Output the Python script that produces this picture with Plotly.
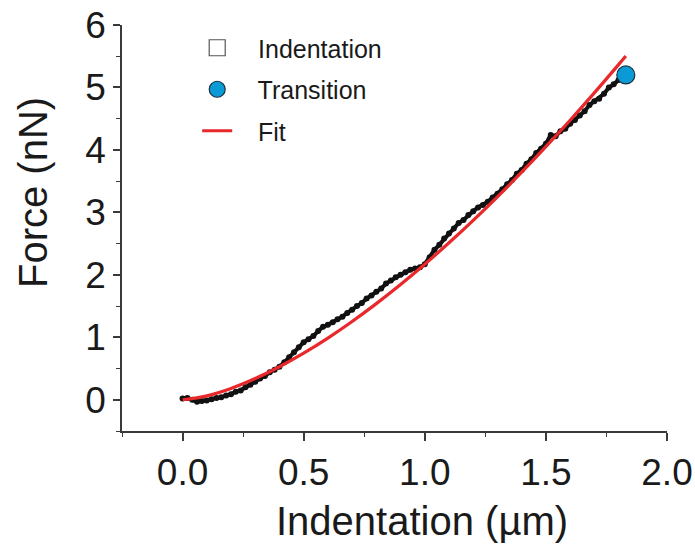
import plotly.graph_objects as go

indent_x = [round(0.02 * i, 2) for i in range(92)]
force_y = [
    0.02, 0.03, 0.00, -0.03, -0.02, -0.01, 0.01, 0.03, 0.04, 0.07,
    0.09, 0.13, 0.15, 0.20, 0.24, 0.29, 0.34, 0.38, 0.44, 0.48,
    0.53, 0.60, 0.68, 0.76, 0.84, 0.92, 0.97, 1.02, 1.10, 1.17,
    1.20, 1.24, 1.29, 1.33, 1.39, 1.44, 1.50, 1.55, 1.62, 1.67,
    1.73, 1.78, 1.86, 1.91, 1.96, 2.00, 2.04, 2.08, 2.10, 2.12,
    2.17, 2.28, 2.40, 2.48, 2.58, 2.66, 2.74, 2.83, 2.88, 2.96,
    3.02, 3.08, 3.12, 3.17, 3.24, 3.30, 3.37, 3.45, 3.52, 3.62,
    3.68, 3.78, 3.85, 3.95, 4.02, 4.10, 4.24, 4.22, 4.30, 4.34,
    4.42, 4.48, 4.55, 4.62, 4.72, 4.78, 4.82, 4.90, 5.00, 5.05,
    5.12, 5.17,
]

# Fit curve
fit_x = [0.0, 0.1, 0.2, 0.3, 0.4, 0.5, 0.6, 0.7, 0.8, 0.9, 1.0,
         1.1, 1.2, 1.3, 1.4, 1.5, 1.6, 1.7, 1.8, 1.83]
fit_y = [0.0, 0.063, 0.182, 0.340, 0.529, 0.746, 0.988, 1.253, 1.539, 1.845, 2.17,
         2.513, 2.873, 3.250, 3.643, 4.052, 4.475, 4.913, 5.365, 5.503]

# Transition point
trans_x = [1.83]
trans_y = [5.20]

x_ticks = [0.0, 0.5, 1.0, 1.5, 2.0]
x_ticklabels = ["0.0", "0.5", "1.0", "1.5", "2.0"]
y_ticks = [0, 1, 2, 3, 4, 5, 6]

FONT = "Liberation Sans, Arial, sans-serif"
TXT = "#1a1a1a"
AX = "#3a3a3a"

fig = go.Figure()

fig.add_trace(go.Scatter(
    x=indent_x, y=force_y, mode="lines+markers",
    line=dict(color="#111111", width=4),
    marker=dict(color="#111111", size=6),
    showlegend=False, hoverinfo="skip",
))
fig.add_trace(go.Scatter(
    x=[None], y=[None], mode="markers", name="   Indentation",
    marker=dict(symbol="square-open", size=17, color="#555555",
                line=dict(width=1.2, color="#555555")),
    legendgroup="a", legendrank=1,
))
fig.add_trace(go.Scatter(
    x=fit_x, y=fit_y, mode="lines", name="   Fit",
    line=dict(color="#e8282b", width=3.2, shape="spline"),
    legendgroup="c", legendrank=3,
))
fig.add_trace(go.Scatter(
    x=trans_x, y=trans_y, mode="markers", name="   Transition",
    marker=dict(symbol="circle", size=18, color="#0a9ad6",
                line=dict(width=1.2, color="#1d2f40")),
    legendgroup="b", legendrank=2,
))

fig.update_layout(
    width=695, height=552,
    margin=dict(l=122, r=28, t=25, b=121),
    paper_bgcolor="white", plot_bgcolor="white",
    font=dict(family=FONT, color=TXT),
    legend=dict(
        x=0.138, y=1.0, xanchor="left", yanchor="top",
        font=dict(size=25, family=FONT, color=TXT),
        bgcolor="rgba(0,0,0,0)", tracegroupgap=6,
        traceorder="grouped",
    ),
    xaxis=dict(
        range=[-0.25, 2.0], tickvals=x_ticks, ticktext=x_ticklabels,
        showgrid=False, zeroline=False, showline=True, automargin=False,
        linecolor=AX, linewidth=1.5, ticks="outside", ticklen=8,
        tickwidth=1.5, tickcolor=AX, ticklabelstandoff=0,
        tickfont=dict(size=37, family=FONT, color=TXT),
        minor=dict(dtick=0.25, tick0=0, ticks="outside", ticklen=4,
                   tickwidth=1.2, tickcolor=AX),
    ),
    yaxis=dict(
        range=[-0.5, 6.0], tickvals=y_ticks,
        showgrid=False, zeroline=False, showline=True, automargin=False,
        linecolor=AX, linewidth=1.5, ticks="outside", ticklen=7,
        tickwidth=1.5, tickcolor=AX, ticklabelstandoff=0,
        tickfont=dict(size=37, family=FONT, color=TXT),
        minor=dict(dtick=0.5, tick0=0, ticks="outside", ticklen=4,
                   tickwidth=1.2, tickcolor=AX),
    ),
)
fig.add_annotation(
    text="Indentation (µm)", xref="paper", yref="paper",
    x=(422 - 122) / 545, y=-(521 - 431) / 406,
    xanchor="center", yanchor="middle", showarrow=False,
    font=dict(size=40, family=FONT, color=TXT),
)
fig.add_annotation(
    text="Force (nN)", xref="paper", yref="paper",
    x=-(122 - 33) / 545, y=(431 - 193) / 406,
    xanchor="center", yanchor="middle", showarrow=False, textangle=-90,
    font=dict(size=40, family=FONT, color=TXT),
)

fig.write_html(
    "out.html",
    config={"displayModeBar": False},
    post_script="document.body.style.margin='0';document.body.style.overflow='hidden';",
)
